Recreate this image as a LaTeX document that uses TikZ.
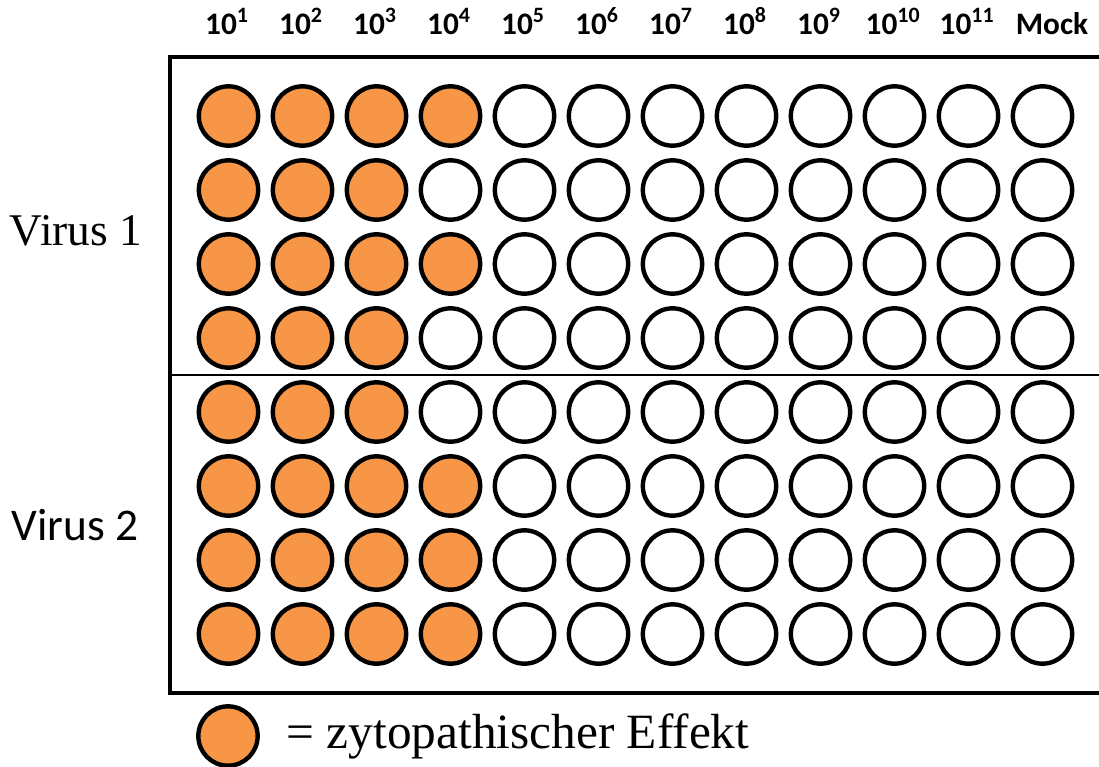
\documentclass[tikz,border=0pt]{standalone}
\usepackage{fontspec}
\setmainfont{Liberation Serif}
\newfontfamily\calibri{Carlito}
\definecolor{cpeorange}{HTML}{F79646}

\tikzset{
    well/.style={circle, draw=black, line width=3.3pt, minimum size=44.5pt, inner sep=0pt},
    colhead/.style={anchor=base, font=\calibri\bfseries\fontsize{23.5}{26}\selectfont},
    rowlabel/.style={anchor=base, font=\fontsize{34}{40}\selectfont}
}

\begin{document}
\begin{tikzpicture}[x=0.75pt, y=-0.75pt]
    \useasboundingbox (0,0) rectangle (1099,767);
    \begin{scope}
        \clip (0,0) rectangle (1099,767);
        % plate
        \draw[line width=3.3pt] (170,57) rectangle (1102,693);
        \draw[line width=1.5pt] (170,375) -- (1102,375);
    \end{scope}
    % dilutions
    \foreach \c in {1,...,11}
        \node[colhead] (h\c) at ({153+74*\c},35) {10\textsuperscript{\c}};
    \node[colhead] (h12) at (1052,35) {Mock};
    % wells, \n = number of wells with CPE
    \foreach \r/\n in {1/4,2/3,3/4,4/3,5/3,6/4,7/4,8/4} {
        \foreach \c in {1,...,12} {
            \ifnum\c>\n \def\wellcol{white}\else \def\wellcol{cpeorange}\fi
            \node[well, fill=\wellcol] (w\r-\c) at ({154.5+74*\c},{42+74*\r}) {};
        }
    }
    \node[rowlabel] (virus1) at (76,245) {Virus 1};
    \node[rowlabel, font=\calibri\fontsize{34}{40}\selectfont] (virus2) at (75,540) {Virus 2};
    % legend
    \node[well, fill=cpeorange] (legwell) at (228,736) {};
    \node[anchor=base west, font=\fontsize{37}{44}\selectfont] (legtext) at (282,748) {= zytopathischer Effekt};
\end{tikzpicture}
\end{document}
